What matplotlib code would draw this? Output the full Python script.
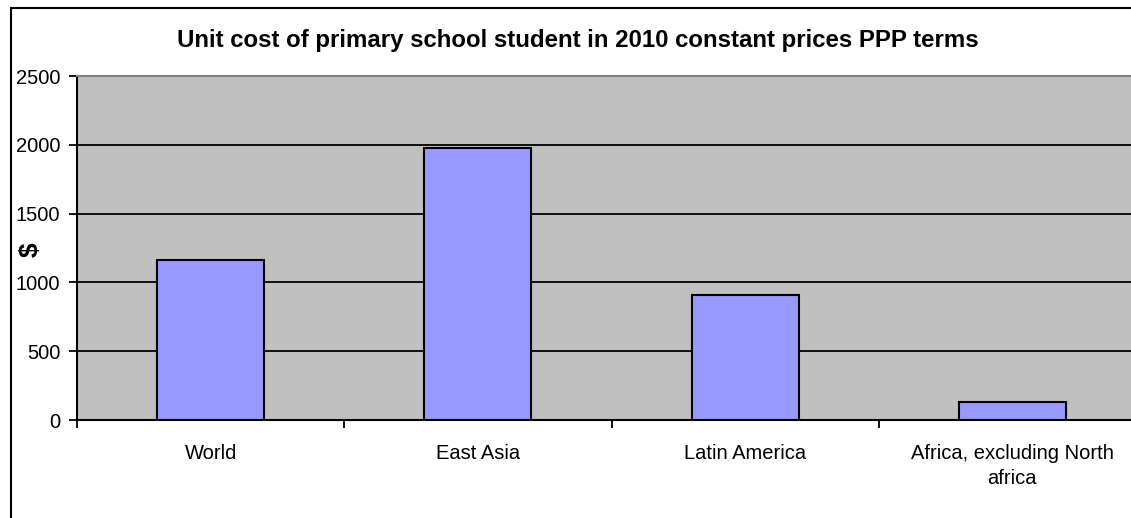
import numpy as np
import matplotlib
matplotlib.use("Agg")
import matplotlib.pyplot as plt
from matplotlib.patches import Rectangle

plt.rcParams['font.family'] = ['Liberation Sans', 'DejaVu Sans']

# data
regions = ["World", "East Asia", "Latin America", "Africa, excluding North\nafrica"]
unit_cost = [1165, 1975, 910, 130]
yticks = [0, 500, 1000, 1500, 2000, 2500]

W, H = 1131, 518
fig = plt.figure(figsize=(W / 100, H / 100), dpi=100)

# outer chart border (right/bottom run off the image)
fig.patches.append(Rectangle((11 / W, -0.1), 1.2, 1 - 8 / H + 0.1,
                             transform=fig.transFigure, fill=False,
                             edgecolor='black', linewidth=1.5))

# plot area, wider than the figure like in the reference crop
ax = fig.add_axes([77 / W, 1 - 420 / H, (1146 - 77) / W, (420 - 76) / H])
ax.set_facecolor('#C0C0C0')

x = np.arange(len(regions))
ax.bar(x, unit_cost, width=0.4, color='#9999FF', edgecolor='black',
       linewidth=1.5, zorder=3)

ax.set_xlim(-0.5, len(regions) - 0.5)
ax.set_ylim(0, 2500)
ax.set_yticks(yticks)
ax.yaxis.grid(True, color='black', linewidth=1.3, zorder=1)
ax.set_axisbelow(True)

ax.set_xticks(x)
ax.set_xticklabels(regions, fontsize=14.5, linespacing=1.4)
ax.set_xticks(np.arange(len(regions) + 1) - 0.5, minor=True)
ax.tick_params(axis='x', which='major', length=0, pad=17)
ax.tick_params(axis='x', which='minor', length=6, width=1.3, direction='out')
ax.tick_params(axis='y', length=6, width=1.3, labelsize=14.5, pad=6)

for s in ['left', 'bottom']:
    ax.spines[s].set_linewidth(1.5)
    ax.spines[s].set_color('black')
ax.spines['top'].set_color('#808080')
ax.spines['top'].set_linewidth(1.5)
ax.spines['right'].set_visible(False)

# "$" sits over the tick label column in the reference
fig.text(31 / W, 1 - 250 / H, '$', rotation=90, fontsize=19,
         fontweight='bold', ha='center', va='center')

fig.text(578 / W, 1 - 47 / H,
         'Unit cost of primary school student in 2010 constant prices PPP terms',
         ha='center', va='baseline', fontsize=17.3, fontweight='bold')

fig.savefig('out.png', dpi=100)
